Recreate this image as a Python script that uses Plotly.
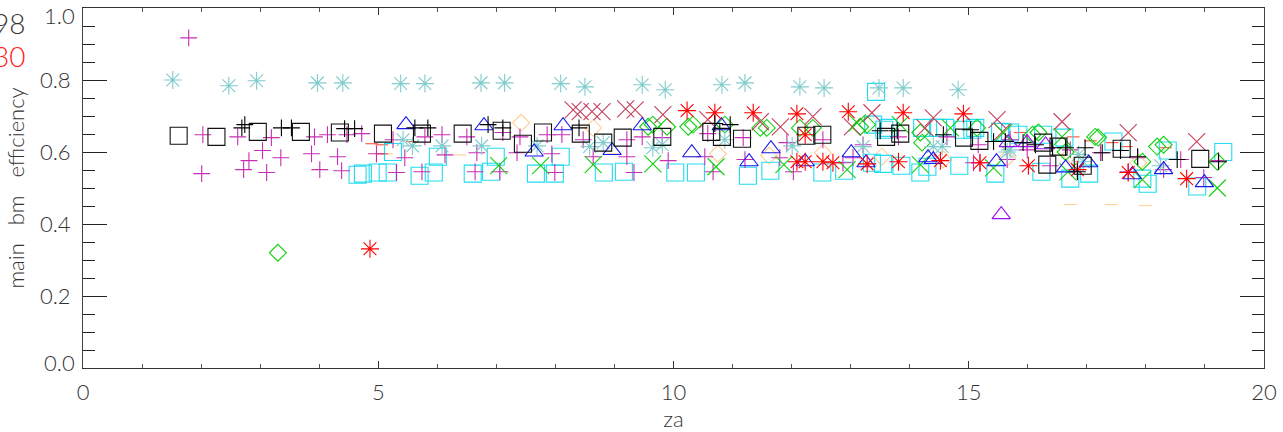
import plotly.graph_objects as go

FONT = "Lato"
TXT = "#333333"

plus_m_x = [1.79,2.03,2.01,2.62,2.81,2.72,3.04,3.11,3.19,3.35,3.87,3.92,4.01,4.14,4.31,4.38,4.47,4.72,4.97,5.25,5.31,5.45,5.74,5.79,6.08,6.13,6.50,6.64,6.67,7.06,7.11,7.35,7.40,7.86,7.94,7.99,8.11,8.47,8.64,9.21,9.21,9.33,9.47,9.81,9.91,10.53,10.58,10.67,11.18,11.21,11.80,11.92,12.03,12.53,12.87,13.04,13.21,13.81,14.63,15.08,15.16,15.19,15.65,15.70,15.99,15.99,16.38,16.72,17.23,17.70,17.86,18.30,18.59,18.98,19.23]
plus_m_y = [0.917,0.648,0.54,0.642,0.576,0.551,0.604,0.543,0.64,0.584,0.595,0.642,0.551,0.648,0.587,0.548,0.648,0.651,0.595,0.634,0.543,0.584,0.545,0.642,0.648,0.592,0.642,0.545,0.598,0.545,0.654,0.598,0.642,0.648,0.595,0.543,0.648,0.634,0.587,0.634,0.587,0.543,0.642,0.64,0.576,0.587,0.651,0.545,0.64,0.579,0.584,0.626,0.545,0.634,0.57,0.584,0.62,0.642,0.642,0.57,0.62,0.57,0.579,0.634,0.626,0.606,0.562,0.606,0.598,0.545,0.584,0.551,0.579,0.529,0.576]

plus_k_x = [2.69,2.74,3.36,3.53,4.43,4.60,5.62,5.84,6.86,7.11,8.40,10.70,10.96,13.50,13.79,14.57,15.03,15.42,15.62,15.92,16.13,16.42,16.64,16.97,17.26,17.57,17.86,18.53,19.23,16.84]
plus_k_y = [0.667,0.676,0.667,0.667,0.665,0.665,0.667,0.667,0.676,0.667,0.667,0.679,0.676,0.659,0.659,0.648,0.662,0.629,0.629,0.626,0.62,0.612,0.612,0.612,0.598,0.604,0.587,0.579,0.573,0.545]

sq_k_x = [1.62,2.26,2.96,3.69,4.35,5.08,5.74,6.43,7.09,7.45,7.79,8.43,8.81,9.14,9.81,10.64,10.82,11.16,12.25,12.52,13.60,13.84,14.92,15.18,16.26,16.52,16.33,16.93,17.59,18.92]
sq_k_y = [0.645,0.642,0.656,0.656,0.654,0.651,0.651,0.651,0.659,0.623,0.654,0.651,0.626,0.64,0.642,0.656,0.642,0.637,0.645,0.648,0.642,0.651,0.64,0.631,0.626,0.615,0.565,0.562,0.609,0.581]

sq_c_x = [4.65,4.74,4.99,5.16,5.25,5.70,5.94,6.01,6.60,6.91,6.99,7.67,7.99,8.09,8.82,9.16,10.03,10.38,11.26,11.64,12.52,12.89,13.36,13.38,13.43,13.55,13.57,13.64,13.86,14.18,14.21,14.30,14.48,14.60,14.84,14.91,15.06,15.11,15.45,15.53,15.70,15.84,16.23,16.26,16.62,16.72,17.04,17.45,17.94,18.03,18.37,18.87,19.31]
sq_c_y = [0.537,0.54,0.543,0.543,0.60,0.534,0.543,0.587,0.54,0.545,0.587,0.54,0.54,0.587,0.543,0.545,0.543,0.543,0.534,0.548,0.543,0.548,0.57,0.676,0.767,0.567,0.662,0.667,0.562,0.543,0.667,0.559,0.667,0.667,0.562,0.662,0.662,0.667,0.54,0.656,0.654,0.648,0.545,0.648,0.64,0.526,0.54,0.629,0.526,0.512,0.604,0.504,0.60]

tri_b_x = [5.47,6.79,7.64,8.13,8.96,9.47,10.31,10.81,11.28,11.65,12.23,13.01,13.26,14.31,14.40,15.47,16.64,17.03,17.77,18.30,18.99]
tri_b_y = [0.676,0.673,0.60,0.673,0.604,0.673,0.598,0.673,0.573,0.609,0.573,0.598,0.57,0.584,0.579,0.573,0.556,0.57,0.537,0.551,0.515]

tri_p_x = [15.55,15.67,15.99,16.30]
tri_p_y = [0.426,0.626,0.626,0.62]

x_r_x = [8.30,8.42,8.62,8.79,9.19,9.35,9.82,10.58,11.47,11.81,12.36,13.03,13.36,14.26,14.40,15.48,15.57,16.58,17.70,18.86]
x_r_y = [0.717,0.712,0.712,0.712,0.72,0.717,0.704,0.69,0.684,0.67,0.698,0.67,0.709,0.667,0.695,0.69,0.656,0.684,0.654,0.629]

x_g_x = [7.04,7.75,8.64,9.65,10.72,11.87,12.94,13.11,13.84,14.18,14.69,15.42,15.59,16.58,16.68,17.94,19.21]
x_g_y = [0.562,0.562,0.565,0.567,0.559,0.565,0.551,0.681,0.676,0.565,0.667,0.556,0.654,0.642,0.545,0.523,0.50]

di_g_x = [3.30,9.57,9.65,9.89,10.25,10.33,10.87,11.47,11.58,12.14,12.36,13.16,13.28,14.18,14.21,15.14,16.08,16.18,16.64,17.14,17.19,17.94,18.19,18.30,19.21]
di_g_y = [0.32,0.67,0.676,0.67,0.67,0.676,0.676,0.667,0.667,0.667,0.667,0.67,0.676,0.654,0.626,0.667,0.648,0.654,0.60,0.642,0.64,0.573,0.615,0.62,0.573]

di_o_x = [7.42,8.64,10.75,11.62,12.53,13.53,14.57,15.65,16.72,17.87]
di_o_y = [0.681,0.667,0.595,0.59,0.598,0.587,0.579,0.584,0.593,0.57]

ast_t_x = [1.52,2.47,2.94,3.97,4.40,5.38,5.79,6.74,7.14,8.09,8.50,9.47,9.86,10.82,11.21,12.14,12.55,13.48,13.89,14.82,5.42,5.58,6.08,6.75,7.69,8.58,8.81,9.65,9.81,10.87,12.01,13.21,14.40,14.55,15.65,15.70,16.86,16.94,18.25]
ast_t_y = [0.80,0.784,0.798,0.792,0.792,0.79,0.79,0.792,0.792,0.79,0.781,0.787,0.773,0.787,0.792,0.781,0.778,0.778,0.778,0.773,0.634,0.617,0.617,0.617,0.617,0.615,0.626,0.612,0.62,0.634,0.617,0.615,0.615,0.615,0.60,0.606,0.593,0.573,0.562]

ast_r_x = [4.86,10.23,10.70,11.35,12.09,12.96,13.89,14.91,12.23,12.09,12.23,12.53,12.70,13.28,13.81,14.52,15.19,16.01,16.84,17.70,18.69]
ast_r_y = [0.331,0.715,0.709,0.709,0.706,0.712,0.709,0.706,0.648,0.573,0.573,0.573,0.57,0.567,0.573,0.576,0.57,0.562,0.551,0.543,0.526]

dash_o_x = [5.08,5.14,6.38,8.97,10.31,16.72,17.41,17.99]
dash_o_y = [0.595,0.595,0.592,0.595,0.587,0.454,0.454,0.451]

dash_r_x = [4.89,5.06,5.06,5.58,15.87,16.77,17.06,17.43,17.67,18.33]
dash_r_y = [0.623,0.62,0.595,0.629,0.654,0.642,0.631,0.626,0.615,0.612]

x_ticks = [0, 5, 10, 15, 20]
y_ticks = [0.2, 0.4, 0.6, 0.8]
y_tick_labels = ["0.2", "0.4", "0.6", "0.8"]

series = [
    (dash_o_x, dash_o_y, "line-ew", 9, "#ffd09a"),
    (dash_r_x, dash_r_y, "line-ew", 9, "#ff5040"),
    (di_o_x, di_o_y, "diamond-open", 13, "#ffcf96"),
    (sq_c_x, sq_c_y, "square-open", 17, "#22dcf2"),
    (plus_m_x, plus_m_y, "cross-thin", 12, "#c62fb4"),
    (di_g_x, di_g_y, "diamond-open", 13, "#10d010"),
    (x_r_x, x_r_y, "x-thin", 17, "#c4405c"),
    (ast_t_x, ast_t_y, "asterisk", 15, "#80cccc"),
    (x_g_x, x_g_y, "x-thin", 17, "#10d010"),
    (tri_p_x, tri_p_y, "triangle-up-open", 16, "#9a10f0"),
    (tri_b_x, tri_b_y, "triangle-up-open", 16, "#1818f0"),
    (ast_r_x, ast_r_y, "asterisk", 15, "#ff0000"),
    (sq_k_x, sq_k_y, "square-open", 17, "#111111"),
    (plus_k_x, plus_k_y, "cross-thin", 12, "#000000"),
]

fig = go.Figure()
for sx, sy, sym, size, col in series:
    fig.add_trace(go.Scatter(
        x=sx, y=sy, mode="markers", showlegend=False, cliponaxis=True,
        marker=dict(symbol=sym, size=size, color=col,
                    line=dict(color=col, width=1.1)),
    ))

tick_font = dict(family=FONT, size=22, color=TXT, weight=300)
title_font = dict(family=FONT, size=22, color=TXT, weight=300)
fig.update_layout(
    width=1283, height=432, autosize=False,
    margin=dict(l=83, r=19, t=8, b=64, autoexpand=False),
    paper_bgcolor="white", plot_bgcolor="white",
    showlegend=False,
    xaxis=dict(
        range=[0, 20], tickmode="array", tickvals=x_ticks, automargin=True,
        ticks="inside", ticklen=7, tickwidth=1, tickcolor="#333",
        minor=dict(dtick=1, ticks="inside", ticklen=4, tickwidth=1, tickcolor="#555"),
        showgrid=False, zeroline=False,
        showline=True, linecolor="#333", linewidth=1, mirror="ticks",
        tickfont=tick_font, ticklabelstandoff=5,
        title=dict(text="za", font=title_font, standoff=3),
    ),
    yaxis=dict(
        range=[0, 1], tickmode="array", tickvals=y_ticks, ticktext=y_tick_labels, automargin=True,
        ticks="inside", ticklen=24, tickwidth=1, tickcolor="#222",
        minor=dict(dtick=0.05, ticks="inside", ticklen=12, tickwidth=1, tickcolor="#222"),
        showgrid=False, zeroline=False,
        showline=True, linecolor="#444", linewidth=1, mirror="ticks",
        tickfont=tick_font, ticklabelstandoff=7,
        title=dict(text="main\u00a0\u00a0\u00a0bm\u00a0\u00a0\u00a0efficiency", font=title_font, standoff=9),
    ),
    annotations=[
        dict(text="1.0", xref="paper", yref="y", x=0, y=1.0, xanchor="right", yanchor="middle",
             xshift=-6, yshift=-7, showarrow=False, font=tick_font),
        dict(text="0.0", xref="paper", yref="y", x=0, y=0.0, xanchor="right", yanchor="middle",
             xshift=-6, yshift=6, showarrow=False, font=tick_font),
        dict(text="98", xref="paper", yref="paper", x=0, y=1, xanchor="right", yanchor="middle",
             xshift=-56, yshift=-15, showarrow=False, font=dict(family=FONT, size=28, color=TXT, weight=300)),
        dict(text="30", xref="paper", yref="paper", x=0, y=1, xanchor="right", yanchor="middle",
             xshift=-56, yshift=-48, showarrow=False, font=dict(family=FONT, size=28, color="#ff2020", weight=300)),
        dict(text="00", xref="paper", yref="paper", x=0, y=1, xanchor="right", yanchor="middle",
             xshift=-56, yshift=19, showarrow=False, font=dict(family=FONT, size=28, color="#10d010", weight=300)),
    ],
)

fig.write_html("out.html", config={"displayModeBar": False},
               post_script="document.body.style.margin='0';document.body.style.overflow='hidden';")
